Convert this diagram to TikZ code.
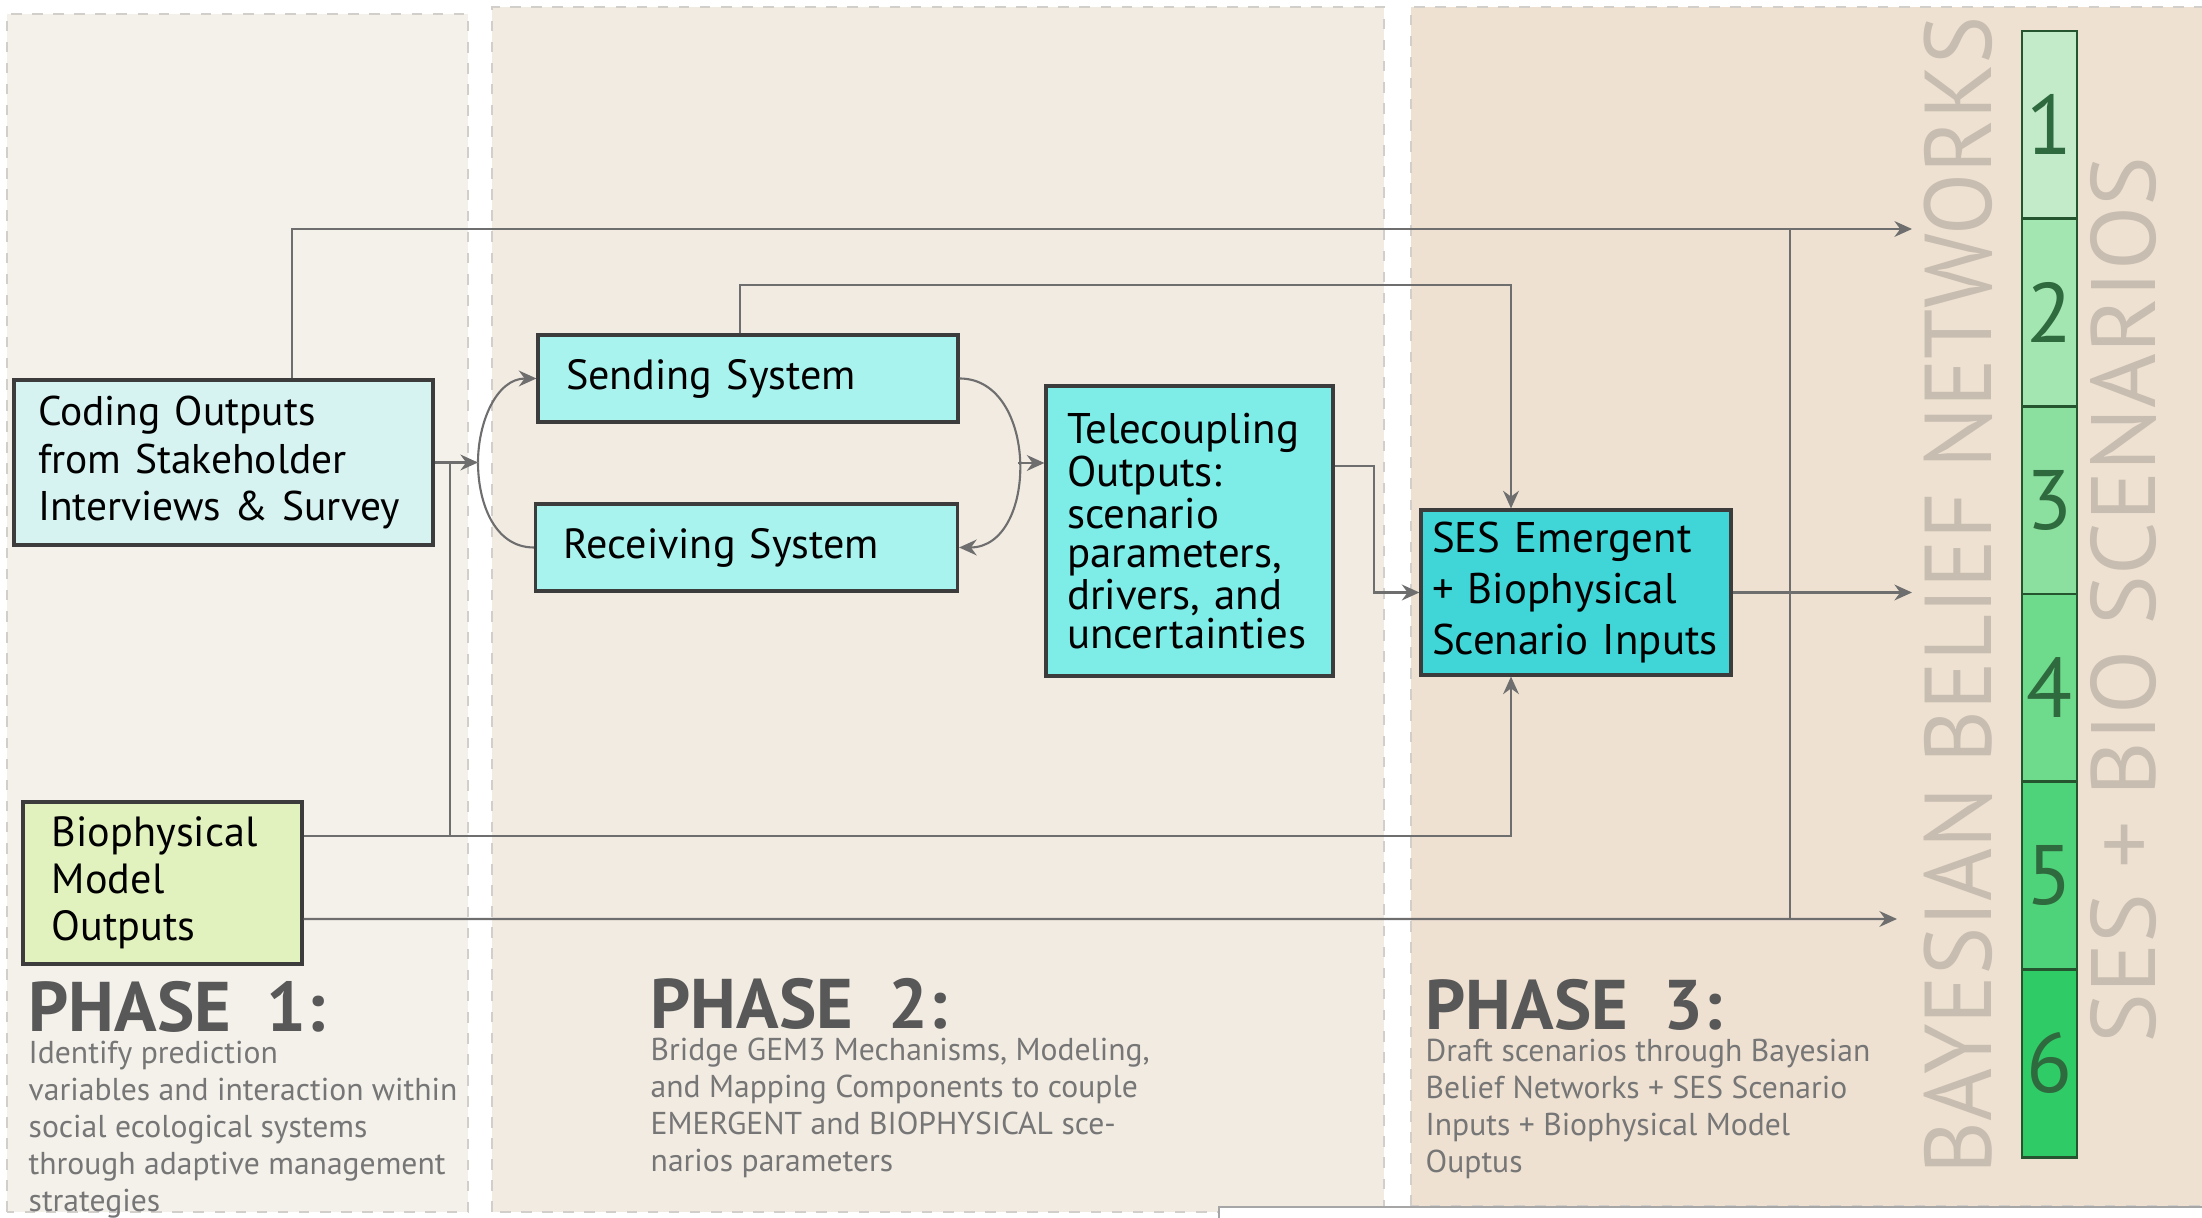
\documentclass[tikz,border=0pt]{standalone}
\usepackage{fontspec}
\setmainfont{PT Sans}
\usetikzlibrary{arrows.meta,positioning}

\definecolor{panelA}{HTML}{F4F0EA}
\definecolor{panelB}{HTML}{F2EBE2}
\definecolor{panelC}{HTML}{EEE1D2}
\definecolor{dashgray}{HTML}{D2CECA}
\definecolor{boxline}{HTML}{3C3C3C}
\definecolor{flowgray}{HTML}{6E6E6E}
\definecolor{codefill}{HTML}{D6F2F1}
\definecolor{sysfill}{HTML}{A9F3EF}
\definecolor{telefill}{HTML}{7EEDE8}
\definecolor{sesfill}{HTML}{40D5D6}
\definecolor{biofill}{HTML}{E2F2BF}
\definecolor{headgray}{HTML}{585858}
\definecolor{descgray}{HTML}{767676}
\definecolor{capgray}{HTML}{C7BDB0}
\definecolor{bnline}{HTML}{24552E}
\definecolor{bnnum}{HTML}{2F6A3E}
\definecolor{bn1}{HTML}{C3EBC9}
\definecolor{bn2}{HTML}{A3E6B1}
\definecolor{bn3}{HTML}{8BE0A0}
\definecolor{bn4}{HTML}{6EDB8C}
\definecolor{bn5}{HTML}{4FD37A}
\definecolor{bn6}{HTML}{2FCB67}

\begin{document}
\begin{tikzpicture}[
  box/.style={draw=boxline, line width=0.9pt, align=left, inner ysep=0pt,
    font=\fontsize{12}{13.4}\selectfont},
  flow/.style={draw=flowgray, line width=0.6pt},
  arr/.style={flow, -{Stealth[length=5pt,width=4.5pt]}},
  phase/.style={font=\fontsize{20}{20}\selectfont\bfseries, text=headgray,
    inner sep=0pt, anchor=base west},
  phasetxt/.style={font=\fontsize{9}{10.5}\selectfont, text=descgray,
    align=left, inner sep=0pt},
  bigcaps/.style={rotate=90, text=capgray, inner sep=0pt,
    font=\fontsize{27}{27}\selectfont}
]

\def\width{22.02}
\def\height{12.18}
\path [use as bounding box] (0,0) rectangle (\width,\height);

% PANELS
\filldraw [fill=panelA, draw=dashgray, dashed, line width=0.6pt] (0.07,0.06) rectangle (4.68,12.04);
\filldraw [fill=panelB, draw=dashgray, dashed, line width=0.6pt] (4.92,0.06) rectangle (13.84,12.11);
\filldraw [fill=panelC, draw=dashgray, dashed, line width=0.6pt] (14.11,0.12) rectangle (22.3,12.11);
\filldraw [fill=white, draw=gray!70, line width=0.5pt] (12.19,-0.3) rectangle (22.4,0.11);

% BOXES
\node[box, fill=codefill, text width=3.71cm, inner xsep=0.24cm, minimum height=1.65cm,
  font=\fontsize{11.8}{13.4}\selectfont] (coding) at (2.235,7.555)
  {Coding Outputs\\from Stakeholder\\Interviews \& Survey};
\node[box, fill=sysfill, text width=3.64cm, inner xsep=0.28cm, minimum height=0.87cm] (sending) at (7.48,8.395)
  {Sending System};
\node[box, fill=sysfill, text width=3.66cm, inner xsep=0.28cm, minimum height=0.87cm] (receiving) at (7.465,6.705)
  {Receiving System};
\node[box, fill=telefill, text width=2.45cm, inner xsep=0.21cm, minimum height=2.9cm,
  font=\fontsize{12.2}{11}\selectfont] (tele) at (11.895,6.87)
  {Telecoupling\\Outputs:\\scenario\\parameters,\\drivers, and\\uncertainties};
\node[box, fill=sesfill, text width=2.88cm, inner xsep=0.11cm, minimum height=1.65cm,
  font=\fontsize{12.2}{14.6}\selectfont] (ses) at (15.76,6.255)
  {SES Emergent\\+ Biophysical\\Scenario Inputs};
\node[box, fill=biofill, text width=2.21cm, inner xsep=0.29cm, minimum height=1.62cm] (bio) at (1.625,3.35)
  {Biophysical\\Model\\Outputs};

% SCENARIO COLUMN
\foreach \i/\shade in {1/bn1,2/bn2,3/bn3,4/bn4,5/bn5,6/bn6}{
  \filldraw [fill=\shade, draw=bnline, line width=0.8pt]
    (20.22,{11.87-(\i-1)*1.877}) rectangle (20.77,{11.87-\i*1.877});
  \node[font=\fontsize{24}{24}\selectfont, text=bnnum] (bn\i) at (20.495,{11.87-(\i-0.5)*1.877}) {\i};
}
\node[bigcaps] (bbn) at (19.58,6.225) {\scalebox{0.955}[1]{BAYESIAN BELIEF NETWORKS}};
\node[bigcaps, font=\fontsize{26}{26}\selectfont] (sesbio) at (21.23,6.18) {\scalebox{1.025}[1]{SES + BIO SCENARIOS}};

% JOINTS
\coordinate (split) at (4.78,7.555);
\coordinate (merge) at (10.18,7.55);
\coordinate (bbnTop) at (19.12,9.89);
\coordinate (bbnMid) at (19.12,6.255);
\coordinate (bbnLow) at (18.97,2.99);
\coordinate (tieTop) at (17.90,9.89);
\coordinate (tieLow) at (17.90,2.99);

% CONNECTORS
\draw[arr] ([xshift=6.85mm]coding.north) |- (bbnTop);
\draw[arr] (coding.east) -- (split);
\draw[arr] (split) to[out=90,in=180] (sending.west);
\draw[flow] (split) to[out=-90,in=180] (receiving.west);
\draw[flow] ([xshift=1.5mm]coding.east) |- ([yshift=4.7mm]bio.east);
\draw[arr] ([yshift=4.7mm]bio.east) -| ([xshift=-6.5mm]ses.south);
\draw[arr] ([yshift=-3.6mm]bio.east) -- (bbnLow);
\draw[arr] ([xshift=-0.8mm]sending.north) -- ++(0,0.48) -| ([xshift=-6.5mm]ses.north);
\draw[arr] (sending.east) to[out=0,in=0,looseness=1.2] (receiving.east);
\draw[arr] (merge) -- (merge -| tele.west);
\draw[arr] ([yshift=6.5mm]tele.east) -- ++(0.39,0) |- (ses.west);
\draw[arr] (ses.east) -- (bbnMid);
\draw[flow] (tieTop) -- (tieLow);

% PHASE LABELS
\node[phase] (ph1) at (0.28,1.86) {PHASE\hspace{0.5em}1:};
\node[phasetxt, below=0.7mm of ph1.south west, anchor=north west] (ph1txt)
  {Identify prediction\\variables and interaction within\\social ecological systems\\through adaptive management\\strategies};
\node[phase] (ph2) at (6.50,1.89) {PHASE\hspace{0.5em}2:};
\node[phasetxt, below=0.7mm of ph2.south west, anchor=north west] (ph2txt)
  {Bridge GEM3 Mechanisms, Modeling,\\and Mapping Components to couple\\EMERGENT and BIOPHYSICAL sce-\\narios parameters};
\node[phase] (ph3) at (14.25,1.88) {PHASE\hspace{0.5em}3:};
\node[phasetxt, below=0.7mm of ph3.south west, anchor=north west] (ph3txt)
  {Draft scenarios through Bayesian\\Belief Networks + SES Scenario\\Inputs + Biophysical Model\\Ouptus};

\end{tikzpicture}
\end{document}
